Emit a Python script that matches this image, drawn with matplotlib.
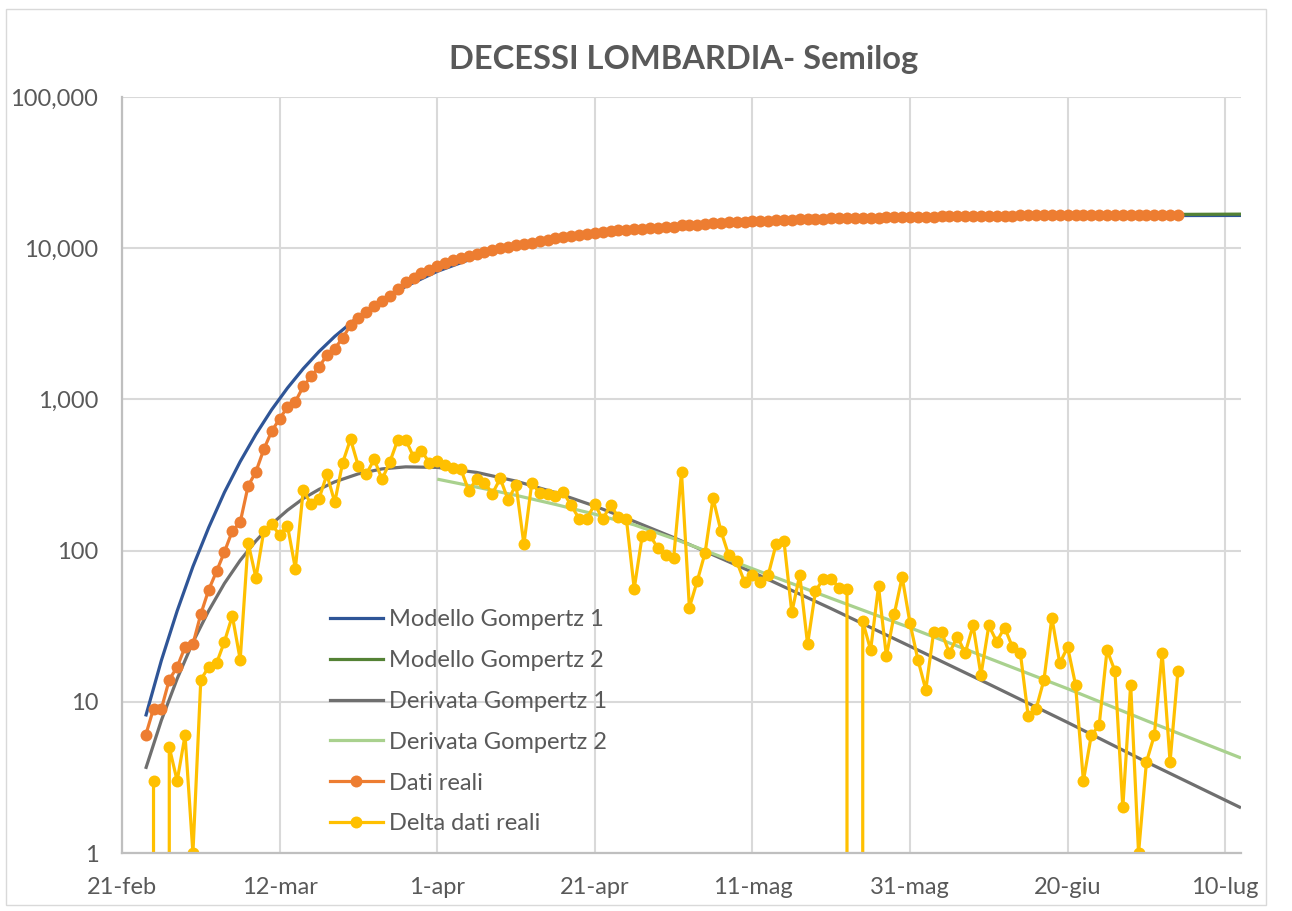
import numpy as np
import matplotlib
matplotlib.use("Agg")
import matplotlib.pyplot as plt
from matplotlib.lines import Line2D
from matplotlib.patches import Rectangle

plt.rcParams['font.family'] = ['Lato', 'DejaVu Sans']

# ---------------- data ----------------
start_date = np.datetime64('2020-02-21')

title = "DECESSI LOMBARDIA- Semilog"
series_names = ["Modello Gompertz 1", "Modello Gompertz 2", "Derivata Gompertz 1",
                "Derivata Gompertz 2", "Dati reali", "Delta dati reali"]

x_tick_days = [0, 20, 40, 60, 80, 100, 120, 140]
x_tick_labels = ["21-feb", "12-mar", "1-apr", "21-apr", "11-mag", "31-mag", "20-giu", "10-lug"]
y_ticks = [1, 10, 100, 1000, 10000, 100000]
y_tick_labels = ["1", "10", "100", "1,000", "10,000", "100,000"]

# cumulative deaths, from day 3 (24-feb)
dati_first_day = 3
dati_reali = [6, 9, 9, 14, 17, 23, 24, 38, 55, 73, 98, 135, 154, 267, 333, 468, 617, 744, 890, 966,
              1218, 1420, 1640, 1959, 2168, 2549, 3095, 3456, 3776, 4178, 4474, 4861, 5402, 5944,
              6360, 6818, 7199, 7593, 7960, 8311, 8656, 8905, 9202, 9484, 9722, 10022, 10238,
              10511, 10621, 10901, 11142, 11377, 11608, 11851, 12050, 12213, 12376, 12579, 12740,
              12940, 13106, 13269, 13325, 13449, 13575, 13679, 13773, 13862, 14191, 14233, 14296,
              14393, 14615, 14750, 14843, 14928, 14990, 15059, 15121, 15190, 15300, 15416, 15455,
              15524, 15548, 15602, 15667, 15732, 15789, 15845, 15845, 15879, 15901, 15959, 15979,
              16017, 16084, 16117, 16136, 16148, 16177, 16206, 16227, 16254, 16275, 16307, 16322,
              16354, 16379, 16410, 16433, 16454, 16462, 16471, 16485, 16521, 16539, 16562, 16575,
              16578, 16584, 16591, 16613, 16629, 16631, 16644, 16645, 16649, 16655, 16676, 16680,
              16696]

# daily deaths, from day 4 (25-feb)
delta_first_day = 4
delta_dati = [3, 0, 5, 3, 6, 1, 14, 17, 18, 25, 37, 19, 113, 66, 135, 149, 127, 146, 76, 252,
              202, 220, 319, 209, 381, 546, 361, 320, 402, 296, 387, 541, 542, 416, 458, 381, 394,
              367, 351, 345, 249, 297, 282, 238, 300, 216, 273, 110, 280, 241, 235, 231, 243, 199,
              163, 163, 203, 161, 200, 166, 163, 56, 124, 126, 104, 94, 89, 329, 42, 63, 97, 222,
              135, 93, 85, 62, 69, 62, 69, 110, 116, 39, 69, 24, 54, 65, 65, 57, 56, 0, 34, 22, 58,
              20, 38, 67, 33, 19, 12, 29, 29, 21, 27, 21, 32, 15, 32, 25, 31, 23, 21, 8, 9, 14, 36,
              18, 23, 13, 3, 6, 7, 22, 16, 2, 13, 1, 4, 6, 21, 4, 16]

# model curves
g1_days = [3, 5, 7, 9, 11, 13, 15, 17, 19, 21, 23, 25, 27, 30, 33, 36, 40, 45, 50, 55, 60, 70,
           80, 90, 100, 110, 120, 130, 142]
g1_vals = [8.0, 18.8, 39.9, 78.4, 142, 243, 388, 589, 856, 1190, 1597, 2072, 2610, 3526, 4533,
           5592, 7024, 8745, 10291, 11613, 12706, 14280, 15231, 15786, 16101, 16278, 16377, 16432,
           16466]

g2_days = [40, 45, 50, 55, 60, 65, 70, 75, 80, 85, 90, 95, 100, 110, 120, 130, 142]
g2_vals = [7800, 9200, 10400, 11450, 12350, 13100, 13750, 14300, 14780, 15180, 15520, 15800,
           16030, 16350, 16560, 16700, 16800]

d1_days = [3, 5, 7, 9, 11, 13, 15, 17, 19, 21, 23, 25, 27, 30, 33, 36, 40, 45, 50, 55, 60, 65,
           70, 80, 90, 100, 110, 120, 130, 142]
d1_vals = [3.6, 7.55, 14.2, 24.8, 40.0, 60.7, 86.2, 116, 150, 185, 221, 254, 285, 322, 347, 358,
           355, 329, 288, 242, 197, 156, 122, 72, 41.3, 23.3, 13.1, 7.3, 4.0, 1.99]

d2_days = [40, 45, 50, 55, 60, 65, 70, 75, 80, 90, 100, 110, 120, 130, 142]
d2_vals = [297, 263, 232, 202, 174, 148, 120, 95.5, 75.9, 48.3, 30.9, 19.4, 12.2, 7.5, 4.25]

x_max_day = 142

colors = ["#2F5597", "#548235", "#6F6F6F", "#A9D18E", "#ED7D31", "#FFC000"]


def to_dates(days):
    return start_date + np.array(days, dtype='timedelta64[D]')


# ---------------- figure ----------------
W, H = 1292, 911
fig = plt.figure(figsize=(W / 100, H / 100), dpi=100)
L, R, T, B = 122, 1241, 97, 853
ax = fig.add_axes([L / W, 1 - B / H, (R - L) / W, (B - T) / H])

lw = 2.3
ms = 8.6
ax.plot(to_dates(g1_days), g1_vals, color=colors[0], lw=lw, solid_capstyle='butt')
ax.plot(to_dates(g2_days), g2_vals, color=colors[1], lw=lw, solid_capstyle='butt')
ax.plot(to_dates(d1_days), d1_vals, color=colors[2], lw=lw, solid_capstyle='butt')
ax.plot(to_dates(d2_days), d2_vals, color=colors[3], lw=lw, solid_capstyle='butt')

dati_days = np.arange(dati_first_day, dati_first_day + len(dati_reali))
delta_days = np.arange(delta_first_day, delta_first_day + len(delta_dati))
ax.plot(to_dates(dati_days), dati_reali, color=colors[4], lw=lw, marker='o', ms=ms,
        markeredgewidth=0)
ax.plot(to_dates(delta_days), delta_dati, color=colors[5], lw=lw, marker='o', ms=ms,
        markeredgewidth=0)

ax.set_yscale('log')
ax.set_ylim(1, 100000)
ax.set_xlim(to_dates([0])[0], to_dates([x_max_day])[0])

ax.set_yticks(y_ticks)
ax.set_yticklabels(y_tick_labels)
ax.yaxis.set_minor_locator(matplotlib.ticker.NullLocator())
ax.set_xticks(to_dates(x_tick_days))
ax.set_xticklabels(x_tick_labels)

ax.grid(True, which='major', color='#D9D9D9', lw=1.5)
ax.set_axisbelow(True)
for s in ['top', 'right']:
    ax.spines[s].set_visible(False)
for s in ['left', 'bottom']:
    ax.spines[s].set_color('#BFBFBF')
    ax.spines[s].set_linewidth(1.6)
ax.tick_params(axis='both', length=0, labelsize=17, labelcolor='#595959')
ax.tick_params(axis='y', pad=17)
ax.tick_params(axis='x', pad=17)

handles = [
    Line2D([], [], color=colors[0], lw=lw),
    Line2D([], [], color=colors[1], lw=lw),
    Line2D([], [], color=colors[2], lw=lw),
    Line2D([], [], color=colors[3], lw=lw),
    Line2D([], [], color=colors[4], lw=lw, marker='o', ms=ms, markeredgewidth=0),
    Line2D([], [], color=colors[5], lw=lw, marker='o', ms=ms, markeredgewidth=0),
]
leg = ax.legend(handles, series_names, loc='upper left', bbox_to_anchor=(0.177, 0.335),
                frameon=False, fontsize=17, labelcolor='#595959', handlelength=2.25,
                handletextpad=0.25, labelspacing=0.84, borderaxespad=0)

fig.text(0.529, 1 - 60 / H, title, ha='center', va='center', fontsize=23.5,
         fontweight='bold', color='#595959')

fig.patches.append(Rectangle((6 / W, 1 - 905 / H), (1266 - 6) / W, (905 - 9) / H,
                             transform=fig.transFigure, fill=False, edgecolor='#D9D9D9',
                             lw=1.0))

fig.savefig('out.png', dpi=100)
